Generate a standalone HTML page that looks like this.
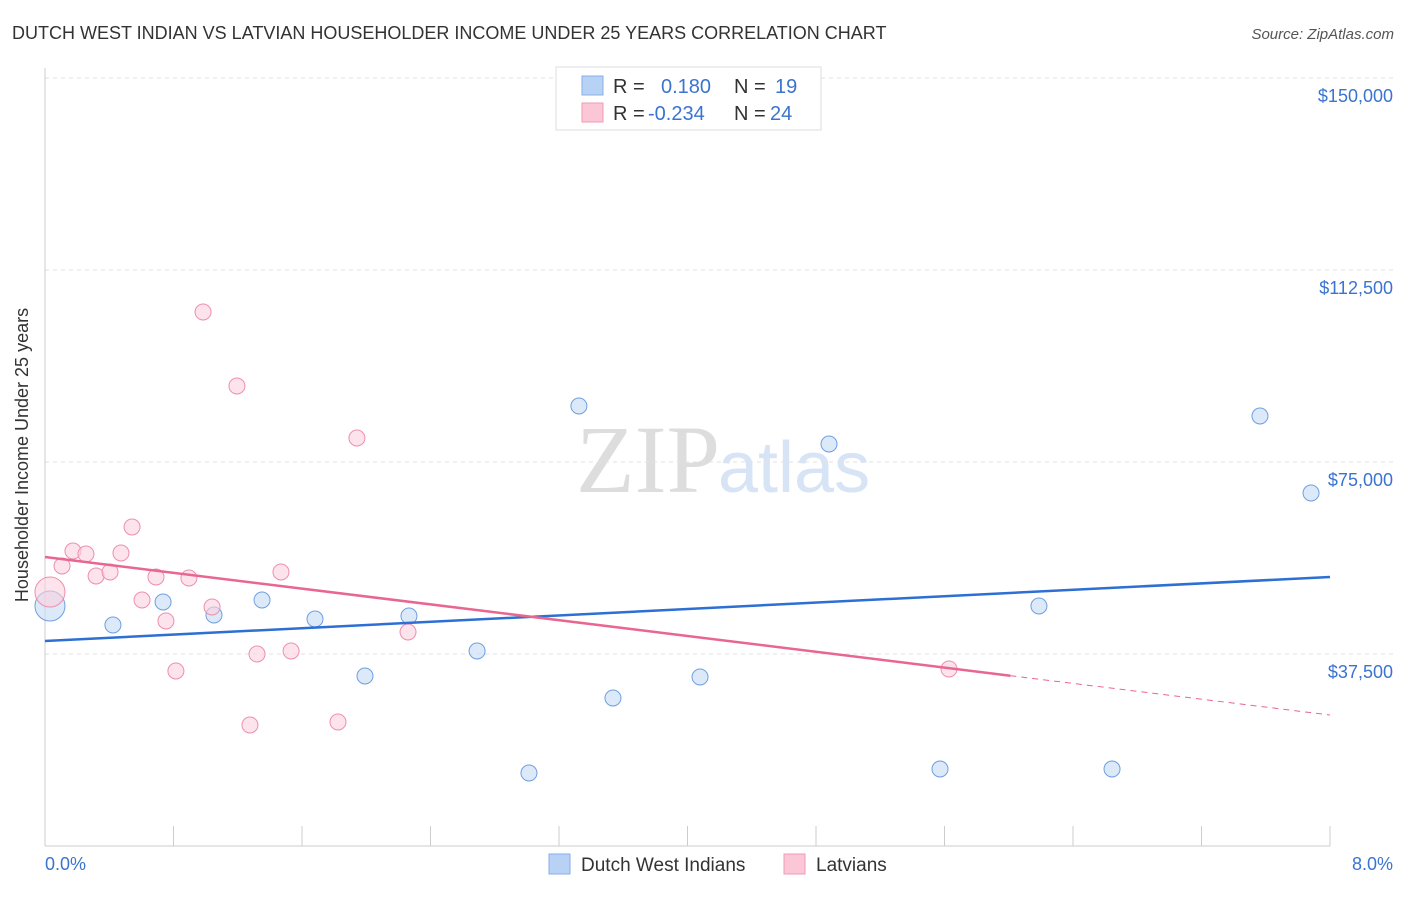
<!DOCTYPE html>
<html><head><meta charset="utf-8"><style>
body{margin:0;background:#fff;font-family:"Liberation Sans",sans-serif}
</style></head><body>
<svg id="c" width="1406" height="892" xmlns="http://www.w3.org/2000/svg" style="font-family:'Liberation Sans',sans-serif">
<text x="12" y="39" font-size="18" fill="#333">DUTCH WEST INDIAN VS LATVIAN HOUSEHOLDER INCOME UNDER 25 YEARS CORRELATION CHART</text>
<text x="1394" y="39" font-size="15" fill="#555" text-anchor="end" font-style="italic">Source: ZipAtlas.com</text>
<text x="28" y="455" font-size="18" fill="#333" text-anchor="middle" transform="rotate(-90 28 455)">Householder Income Under 25 years</text>
<text x="720" y="492" font-size="96" fill="#ddd" text-anchor="end" font-family="Liberation Serif">ZIP</text>
<text x="718" y="492" font-size="72" fill="#d6e4f5">atlas</text>
<g id="grid"></g><g id="marks"></g>
<g>
<rect x="556" y="67" width="265" height="63" fill="#fff" stroke="#ddd"/>
<rect x="582" y="76" width="21" height="19" fill="#b8d2f5" stroke="#88aee8"/>
<rect x="582" y="103" width="21" height="19" fill="#fbc7d7" stroke="#f09ab5"/>
<text x="613" y="93" font-size="20" fill="#333">R =</text><text x="661" y="93" font-size="20" fill="#3a74d0">0.180</text>
<text x="734" y="93" font-size="20" fill="#333">N =</text><text x="775" y="93" font-size="20" fill="#3a74d0">19</text>
<text x="613" y="120" font-size="20" fill="#333">R =</text><text x="648" y="120" font-size="20" fill="#3a74d0">-0.234</text>
<text x="734" y="120" font-size="20" fill="#333">N =</text><text x="770" y="120" font-size="20" fill="#3a74d0">24</text>
</g>
<g>
<rect x="549" y="854" width="21" height="20" fill="#b8d2f5" stroke="#88aee8"/>
<text x="581" y="871" font-size="19" fill="#333">Dutch West Indians</text>
<rect x="784" y="854" width="21" height="20" fill="#fbc7d7" stroke="#f09ab5"/>
<text x="816" y="871" font-size="19" fill="#333">Latvians</text>
</g>
<text x="45" y="870" font-size="18" fill="#3a74d0">0.0%</text>
<text x="1393" y="870" font-size="18" fill="#3a74d0" text-anchor="end">8.0%</text>
</svg>
<script>
const yTicks=[37500,75000,112500,150000];
const yTickLabels=["$37,500","$75,000","$112,500","$150,000"];
const blueX=[0.031,0.423,0.735,1.052,1.351,1.681,1.992,2.266,2.690,3.013,3.324,3.536,4.078,4.881,5.572,6.188,6.643,7.564,7.882];
const blueY=[46875,43164,47656,45117,48047,44336,33203,44922,38086,14258,85938,28906,33008,78516,15039,46875,15039,83984,68945];
const pinkX=[0.031,0.106,0.174,0.255,0.318,0.405,0.473,0.542,0.604,0.691,0.753,0.815,0.896,0.984,1.040,1.195,1.276,1.320,1.469,1.532,1.824,1.942,2.260,5.628];
const pinkY=[49609,54688,57617,57031,52734,53516,57227,62305,48047,52539,43945,34180,52344,104297,46680,89844,23633,37500,53516,38086,24219,79688,41797,34570];
const blueTrend=[40039,52539];
const pinkTrend=[56445,25586];
const pinkSolidEnd=6.01;
const X=v=>45+v/8*1285, Y=v=>846-v/37500*192;
const NS="http://www.w3.org/2000/svg";
function mk(p,t,a){const e=document.createElementNS(NS,t);for(const k in a)e.setAttribute(k,a[k]);p.appendChild(e);return e;}
const g=document.getElementById('grid'),m=document.getElementById('marks');
yTicks.forEach((t,i)=>{
 const l=mk(g,'line',{x1:45,x2:1394,y1:Y(t),y2:Y(t),stroke:'#e2e2e2','stroke-dasharray':'4,4'});
 
 
 const tx=mk(g,'text',{x:1393,y:Y(t)+24,'font-size':18,fill:'#3a74d0','text-anchor':'end'});
 tx.textContent=yTickLabels[i];
 
 
});
const ax=mk(g,'line',{x1:45,x2:1330,y1:846,y2:846,stroke:'#ccc'});


const ay=mk(g,'line',{x1:45,x2:45,y1:68,y2:846,stroke:'#ccc'});


for(let i=0;i<=10;i++){const t=mk(g,'line',{x1:X(i*0.8),x2:X(i*0.8),y1:826,y2:846,stroke:'#ccc'});
 
 }
function pts(xs,ys,fill,stroke,name){xs.forEach((x,i)=>{const c=mk(m,'circle',{cx:X(x),cy:Y(ys[i]),r:i==0?15:8,fill:fill,'fill-opacity':0.6,stroke:stroke,'stroke-width':1});
 
 });}
pts(blueX,blueY,'#c5daf5','#6f9fe0','dutch-west-indian-point');
pts(pinkX,pinkY,'#fbd0dd','#ee8fae','latvian-point');
const bt=mk(m,'line',{x1:X(0),y1:Y(blueTrend[0]),x2:X(8),y2:Y(blueTrend[1]),stroke:'#2d6fd3','stroke-width':2.5});


const py=x=>pinkTrend[0]+(pinkTrend[1]-pinkTrend[0])*x/8;
const pt=mk(m,'line',{x1:X(0),y1:Y(pinkTrend[0]),x2:X(pinkSolidEnd),y2:Y(py(pinkSolidEnd)),stroke:'#e8668f','stroke-width':2.5});


const pd=mk(m,'line',{x1:X(pinkSolidEnd),y1:Y(py(pinkSolidEnd)),x2:X(8),y2:Y(pinkTrend[1]),stroke:'#e8668f','stroke-width':1,'stroke-dasharray':'6,5'});


</script>
</body></html>
